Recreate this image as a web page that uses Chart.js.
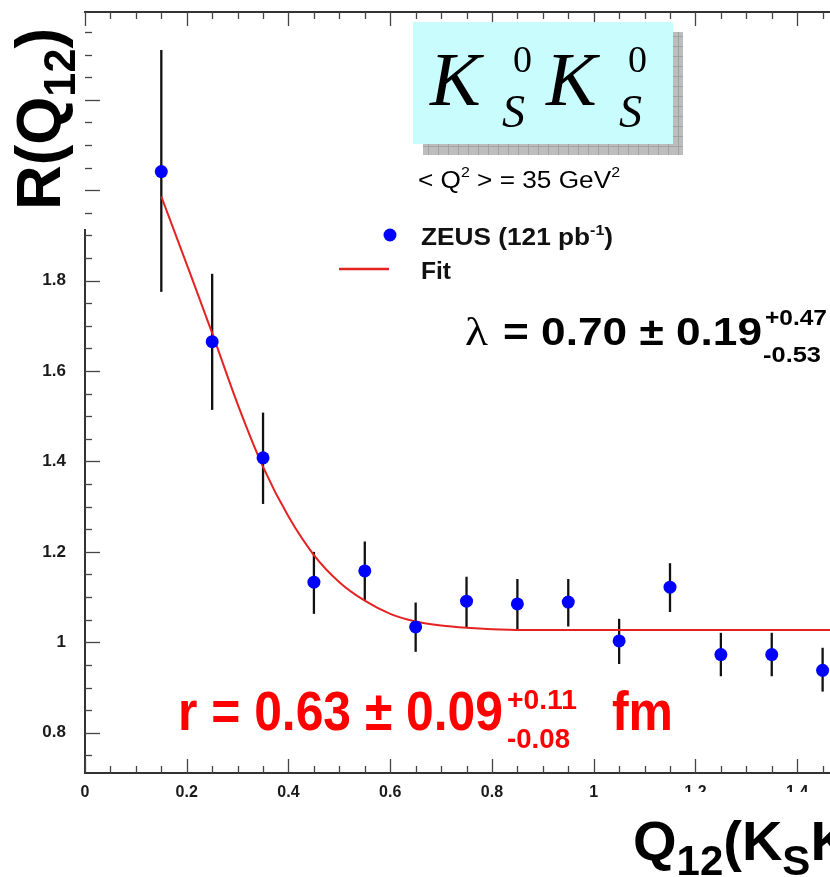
<!DOCTYPE html>
<html>
<head>
<meta charset="utf-8">
<script src="https://cdn.jsdelivr.net/npm/chart.js@4/dist/chart.umd.min.js"></script>
<style>
  html, body { margin: 0; padding: 0; background: #fff; overflow: hidden; }
  #wrap { position: absolute; left: 0; top: 0; width: 1000px; height: 877px; }
</style>
</head>
<body>
<div id="wrap"><canvas id="bec" width="1000" height="877"></canvas></div>
<script>
// measured points (Q12 in GeV, R value and the ends of the error bar)
const qValues = [0.15, 0.25, 0.35, 0.45, 0.55, 0.65, 0.75, 0.85, 0.95, 1.05, 1.15, 1.25, 1.35, 1.45];
const rValues = [2.041, 1.665, 1.408, 1.133, 1.158, 1.034, 1.091, 1.085, 1.089, 1.003, 1.122, 0.973, 0.973, 0.938];
const rUpper  = [2.310, 1.815, 1.508, 1.200, 1.223, 1.088, 1.145, 1.140, 1.140, 1.052, 1.175, 1.021, 1.021, 0.988];
const rLower  = [1.775, 1.514, 1.306, 1.063, 1.092, 0.979, 1.032, 1.029, 1.035, 0.952, 1.067, 0.925, 0.925, 0.891];

// fit curve
const fitQ = [0.15, 0.2, 0.25, 0.3, 0.35, 0.4, 0.45, 0.5, 0.55, 0.6, 0.65, 0.7, 0.75, 0.8, 0.9, 1.0, 1.2, 1.4, 1.6];
const fitR = [1.986, 1.836, 1.684, 1.527, 1.388, 1.278, 1.193, 1.133, 1.092, 1.063, 1.046, 1.037, 1.032, 1.029, 1.027, 1.027, 1.027, 1.027, 1.027];

const xRange = [0, 1.6];
const yRange = [0.711, 2.394];
const majorStep = 0.2;
const minorStep = 0.05;

const SANS = '"Liberation Sans", Arial, sans-serif';
const SERIF = '"Liberation Serif", "Times New Roman", serif';

// draws a row of text pieces, squeezed/stretched to a given width
function richText(ctx, x, y, segs, width) {
  let total = 0;
  segs.forEach(s => { ctx.font = s.font; s.w = ctx.measureText(s.t).width; total += s.w; });
  const sx = width ? width / total : 1;
  ctx.save();
  ctx.translate(x, y);
  ctx.scale(sx, 1);
  ctx.textAlign = 'left';
  ctx.textBaseline = 'alphabetic';
  let cx = 0;
  segs.forEach(s => {
    ctx.font = s.font;
    ctx.fillStyle = s.color || '#000';
    ctx.fillText(s.t, cx, s.dy || 0);
    cx += s.w;
  });
  ctx.restore();
}

const errorBars = {
  id: 'errorBars',
  beforeDatasetsDraw(chart) {
    const { ctx, scales: { x, y } } = chart;
    ctx.save();
    ctx.strokeStyle = '#111';
    ctx.lineWidth = 2.3;
    qValues.forEach((q, i) => {
      const px = x.getPixelForValue(q);
      ctx.beginPath();
      ctx.moveTo(px, y.getPixelForValue(rUpper[i]));
      ctx.lineTo(px, y.getPixelForValue(rLower[i]));
      ctx.stroke();
    });
    ctx.restore();
  }
};

const decorations = {
  id: 'decorations',
  afterDraw(chart) {
    const { ctx, chartArea: a, scales: { x, y } } = chart;
    ctx.save();

    // y title area hides the top of the axis
    ctx.fillStyle = '#fff';
    ctx.fillRect(0, 0, 86.5, 229);

    // frame on top + inward ticks
    ctx.strokeStyle = '#333';
    ctx.lineWidth = 2;
    ctx.beginPath();
    ctx.moveTo(a.left - 1, a.top);
    ctx.lineTo(a.right, a.top);
    ctx.stroke();
    ctx.lineWidth = 1.3;
    ctx.strokeStyle = '#444';
    for (let v = xRange[0]; v <= xRange[1] + 1e-9; v += minorStep) {
      const major = Math.abs(v / majorStep - Math.round(v / majorStep)) < 1e-6;
      const len = major ? 14 : 7;
      const px = Math.round(x.getPixelForValue(v)) + 0.5;
      ctx.beginPath();
      ctx.moveTo(px, a.bottom); ctx.lineTo(px, a.bottom - len);
      ctx.moveTo(px, a.top); ctx.lineTo(px, a.top + len);
      ctx.stroke();
    }
    for (let v = 0.75; v <= yRange[1]; v += minorStep) {
      const major = Math.abs(v / majorStep - Math.round(v / majorStep)) < 1e-6;
      const len = major ? 15 : 7;
      const py = Math.round(y.getPixelForValue(v)) + 0.5;
      ctx.beginPath();
      ctx.moveTo(a.left, py); ctx.lineTo(a.left + len, py);
      ctx.stroke();
    }

    // y title
    ctx.save();
    ctx.translate(60, 210);
    ctx.rotate(-Math.PI / 2);
    richText(ctx, 0, 0, [
      { t: 'R(Q', font: 'bold 63px ' + SANS },
      { t: '12', font: 'bold 44px ' + SANS, dy: 15 },
      { t: ')', font: 'bold 63px ' + SANS }
    ], 182);
    ctx.restore();

    // K0s K0s box with hatched shadow
    ctx.fillStyle = '#bdbdbd';
    ctx.fillRect(423, 32, 260, 123);
    ctx.strokeStyle = '#a2a2a2';
    ctx.lineWidth = 1;
    for (let gx = 428; gx < 683; gx += 10) {
      ctx.beginPath(); ctx.moveTo(gx + 0.5, 32); ctx.lineTo(gx + 0.5, 155); ctx.stroke();
    }
    for (let gy = 36; gy < 155; gy += 10) {
      ctx.beginPath(); ctx.moveTo(423, gy + 0.5); ctx.lineTo(683, gy + 0.5); ctx.stroke();
    }
    ctx.fillStyle = '#c9fdfd';
    ctx.fillRect(413, 22, 260, 122);
    ctx.fillStyle = '#000';
    ctx.textAlign = 'left';
    ctx.textBaseline = 'alphabetic';
    ctx.font = 'italic 76px ' + SERIF;
    ctx.fillText('K', 430, 105);
    ctx.fillText('K', 546, 105);
    ctx.font = '38px ' + SERIF;
    ctx.fillText('0', 513, 72);
    ctx.fillText('0', 628, 72);
    ctx.font = 'italic 46px ' + SERIF;
    ctx.fillText('S', 502, 127);
    ctx.fillText('S', 619, 127);

    // <Q2> line
    const reg = '23px ' + SANS;
    const regSup = '14px ' + SANS;
    richText(ctx, 418, 188, [
      { t: '< Q', font: reg, color: '#000' },
      { t: '2', font: regSup, dy: -11, color: '#000' },
      { t: ' > = 35 GeV', font: reg, color: '#000' },
      { t: '2', font: regSup, dy: -11, color: '#000' }
    ], 202);

    // legend
    ctx.fillStyle = '#0000ff';
    ctx.beginPath(); ctx.arc(390, 235, 6.5, 0, Math.PI * 2); ctx.fill();
    ctx.strokeStyle = '#e52222';
    ctx.lineWidth = 2.5;
    ctx.beginPath(); ctx.moveTo(339, 269); ctx.lineTo(389, 269); ctx.stroke();
    richText(ctx, 421, 245, [
      { t: 'ZEUS (121 pb', font: 'bold 23px ' + SANS, color: '#111' },
      { t: '-1', font: 'bold 14px ' + SANS, dy: -10, color: '#111' },
      { t: ')', font: 'bold 23px ' + SANS, color: '#111' }
    ], 192);
    richText(ctx, 421, 279, [{ t: 'Fit', font: 'bold 23px ' + SANS, color: '#111' }], 30);

    // lambda
    richText(ctx, 465, 345, [{ t: '\u03bb', font: '40px ' + SERIF }], 23);
    richText(ctx, 503, 345, [{ t: '= 0.70 \u00b1 0.19', font: 'bold 38px ' + SANS }], 259);
    richText(ctx, 765, 325, [{ t: '+0.47', font: 'bold 22px ' + SANS }], 62);
    richText(ctx, 763, 362, [{ t: '-0.53', font: 'bold 22px ' + SANS }], 58);

    // radius
    const red = '#ff0000';
    richText(ctx, 178, 730, [{ t: 'r = 0.63 \u00b1 0.09', font: 'bold 56px ' + SANS, color: red }], 325);
    richText(ctx, 507, 709, [{ t: '+0.11', font: 'bold 28px ' + SANS, color: red }], 70);
    richText(ctx, 507, 748, [{ t: '-0.08', font: 'bold 28px ' + SANS, color: red }], 63);
    richText(ctx, 612, 730, [{ t: 'fm', font: 'bold 56px ' + SANS, color: red }], 61);

    // x title (cut by the window)
    ctx.fillStyle = '#fff';
    ctx.fillRect(620, 792, 380, 85);
    richText(ctx, 633, 860, [
      { t: 'Q', font: 'bold 56px ' + SANS },
      { t: '12', font: 'bold 42px ' + SANS, dy: 15 },
      { t: '(K', font: 'bold 56px ' + SANS },
      { t: 'S', font: 'bold 42px ' + SANS, dy: 15 },
      { t: 'K', font: 'bold 56px ' + SANS },
      { t: 'S', font: 'bold 42px ' + SANS, dy: 15 },
      { t: ') (GeV)', font: 'bold 56px ' + SANS }
    ]);

    ctx.restore();
  }
};

const tickFmt = v => String(+v.toFixed(1));

new Chart(document.getElementById('bec'), {
  type: 'scatter',
  data: {
    datasets: [
      {
        label: 'ZEUS (121 pb-1)',
        data: qValues.map((q, i) => ({ x: q, y: rValues[i] })),
        backgroundColor: '#0000ff',
        borderWidth: 0,
        pointRadius: 6.5,
        pointHoverRadius: 6.5
      },
      {
        type: 'line',
        label: 'Fit',
        data: fitQ.map((q, i) => ({ x: q, y: fitR[i] })),
        borderColor: '#e52222',
        borderWidth: 2,
        pointRadius: 0,
        fill: false,
        cubicInterpolationMode: 'monotone'
      }
    ]
  },
  options: {
    responsive: false,
    animation: false,
    devicePixelRatio: 1,
    layout: { padding: { left: 0, top: 12, right: 1000 - (85 + 1.6 * 508.7), bottom: 0 } },
    plugins: { legend: { display: false }, tooltip: { enabled: false } },
    scales: {
      x: {
        type: 'linear',
        min: xRange[0],
        max: xRange[1],
        grid: { display: false, drawTicks: false },
        border: { display: true, color: '#333', width: 2 },
        ticks: {
          stepSize: majorStep,
          padding: 10,
          maxRotation: 0,
          color: '#1a1a1a',
          font: { family: SANS, size: 16, weight: 'bold' },
          callback: tickFmt
        },
        afterFit: s => { s.height = 104; s.paddingLeft = 0; s.paddingRight = 0; }
      },
      y: {
        type: 'linear',
        min: yRange[0],
        max: yRange[1],
        grid: { display: false, drawTicks: false },
        border: { display: true, color: '#333', width: 2 },
        ticks: {
          stepSize: majorStep,
          includeBounds: false,
          padding: 19,
          color: '#1a1a1a',
          font: { family: SANS, size: 17, weight: 'bold' },
          callback: v => (v > 1.85 ? '' : tickFmt(v))
        },
        afterFit: s => { s.width = 85; s.paddingTop = 0; s.paddingBottom = 0; }
      }
    }
  },
  plugins: [errorBars, decorations]
});
</script>
</body>
</html>
